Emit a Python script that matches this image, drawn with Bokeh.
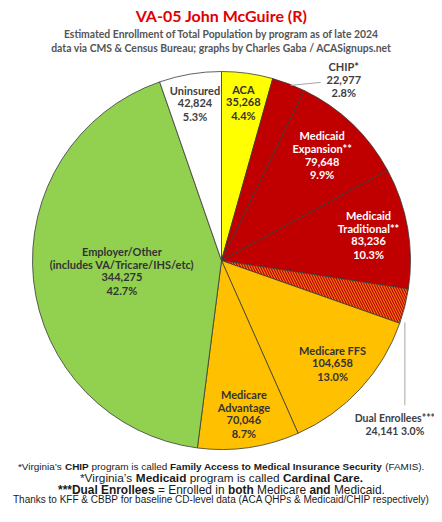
import math
from bokeh.plotting import figure
from bokeh.models import Range1d, ColumnDataSource
from bokeh.core.properties import value
from bokeh.embed import file_html
from bokeh.resources import INLINE

# ---------------- data ----------------
categories = ["ACA", "CHIP*", "Medicaid Expansion**", "Medicaid Traditional**",
              "Dual Enrollees***", "Medicare FFS", "Medicare Advantage",
              "Employer/Other", "Uninsured"]
enrollment = [35268, 22977, 79648, 83236, 24141, 104658, 70046, 344275, 42824]
label_names = [["ACA"], ["CHIP*"], ["Medicaid", "Expansion**"], ["Medicaid", "Traditional**"],
               ["Dual Enrollees***"], ["Medicare FFS"], ["Medicare", "Advantage"],
               ["Employer/Other", "(includes VA/Tricare/IHS/etc)"], ["Uninsured"]]

title_text = "VA-05 John McGuire (R)"
subtitle_lines = ["Estimated Enrollment of Total Population by program as of late 2024",
                  "data via CMS & Census Bureau; graphs by Charles Gaba / ACASignups.net"]
footnotes = [
    [("*Virginia\u2019s ", False), ("CHIP", True), (" program is called ", False),
     ("Family Access to Medical Insurance Security", True), (" (FAMIS).", False)],
    [("*Virginia\u2019s ", False), ("Medicaid", True), (" program is called ", False),
     ("Cardinal Care.", True)],
    [("***Dual Enrollees", True), (" = Enrolled in ", False), ("both", True),
     (" Medicare ", False), ("and", True), (" Medicaid.", False)],
    [("Thanks to KFF & CBBP for baseline CD-level data (ACA QHPs & Medicaid/CHIP respectively)", False)],
]

# ---------------- style ----------------
fill_colors = ["#FFFF00", "#C00000", "#C00000", "#C00000", "#F07A10",
               "#FFC000", "#FFC000", "#92D050", "#FFFFFF"]
hatches = [" ", " ", " ", " ", "\\", " ", " ", " ", " "]
text_colors = ["#333333", "#404040", "#FFFFFF", "#FFFFFF", "#404040",
               "#333333", "#333333", "#333333", "#404040"]
label_sizes = ["11px", "11px", "11px", "11px", "10.5px", "11px", "11px", "11px", "11px"]
# inside: ("in", radius fraction) ; outside: ("out", dx, dy from edge point)
placement = [("in", 0.845), ("out", 55, -4), ("in", 0.77), ("in", 0.79), ("out", -10, 118),
             ("in", 0.80), ("in", 0.82), ("in", 0.53), ("in", 0.845)]

CX, CY, R = 221, 260, 189          # picture coordinates of pie
LINE = 13
W, H = 434, 506


def Y(sy):
    return -sy


p = figure(width=W, height=H, x_range=Range1d(0, W), y_range=Range1d(-H, 0),
           output_backend="svg", toolbar_location=None, min_border=0)
p.axis.visible = False
p.grid.visible = False
p.outline_line_color = None
p.background_fill_color = "white"
p.border_fill_color = "white"

total = sum(enrollment)
fracs = [v / total for v in enrollment]
starts, ends, mids = [], [], []
cum = 0.0
for f in fracs:
    starts.append(cum)
    cum += f
    ends.append(cum)
    mids.append((starts[-1] + cum) / 2)

src = ColumnDataSource(dict(
    cat=categories, value=enrollment,
    start=[math.pi / 2 - 2 * math.pi * s for s in starts],
    end=[math.pi / 2 - 2 * math.pi * e for e in ends],
    color=fill_colors, hatch=hatches))

p.wedge(x=CX, y=Y(CY), radius=R, start_angle="start", end_angle="end", direction="clock",
        fill_color="color", line_color="#3a3a3a", line_width=0.8,
        hatch_pattern="hatch", hatch_color="#C00000", hatch_scale=5, hatch_weight=1.2,
        source=src)

# labels
tx, ty, tt, tc, tsz = [], [], [], [], []
lx0, ly0, lx1, ly1 = [], [], [], []
for i, v in enumerate(enrollment):
    th = 2 * math.pi * mids[i]
    pct = f"{100 * v / total:.1f}%"
    pl = placement[i]
    if pl[0] == "in":
        lines = label_names[i] + [f"{v:,}", pct]
        bx = CX + pl[1] * R * math.sin(th)
        by = CY - pl[1] * R * math.cos(th)
    else:
        ex = CX + R * math.sin(th)
        ey = CY - R * math.cos(th)
        bx, by = ex + pl[1], ey + pl[2]
        if i == 1:
            lines = label_names[i] + [f"{v:,}", pct]
            lx0.append(ex + 2); ly0.append(Y(ey + 1.5))
            lx1.append(bx - 23); ly1.append(Y(by + 2.5))
        else:
            lines = label_names[i] + [f"{v:,} {pct}"]
            lx0.append(ex); ly0.append(Y(ey + 16))
            lx1.append(ex); ly1.append(Y(by - 19))
    n = len(lines)
    for k, s in enumerate(lines):
        tx.append(bx)
        ty.append(Y(by + (k - (n - 1) / 2) * LINE))
        tt.append(s)
        tc.append(text_colors[i])
        tsz.append(label_sizes[i])

p.segment(x0=lx0, y0=ly0, x1=lx1, y1=ly1, line_color="#A6A6A6", line_width=1)
lsrc = ColumnDataSource(dict(x=tx, y=ty, text=tt, color=tc, size=tsz))
p.text(x="x", y="y", text="text", text_color="color", text_font=value("Lato"),
       text_font_style="bold", text_font_size="size", text_align="center",
       text_baseline="middle", source=lsrc)

# title / subtitle
p.text(x=[CX], y=[Y(15)], text=[title_text], text_color="#E00000", text_font=value("Lato"),
       text_font_style="bold", text_font_size="16px", text_align="center", text_baseline="middle")
p.text(x=[CX, CX], y=[Y(33), Y(47)], text=subtitle_lines, text_color="#555555",
       text_font=value("Lato"), text_font_style="bold", text_font_size="10.4px",
       text_align="center", text_baseline="middle")

# footnotes with Arial/Liberation metrics
PUN = " '\u2019()*,-./=&?:"
REG = dict(zip(PUN, [278, 191, 222, 333, 333, 389, 278, 333, 278, 278, 584, 667, 556, 278]))
BOLD = dict(zip(PUN, [278, 238, 278, 333, 333, 389, 278, 333, 278, 278, 584, 722, 611, 333]))
UP_R = [667, 667, 722, 722, 667, 611, 778, 722, 278, 500, 667, 556, 833, 722, 778, 667, 778, 722, 667, 611, 722, 667, 944, 667, 667, 611]
UP_B = [722, 722, 722, 722, 667, 611, 778, 722, 278, 556, 722, 611, 833, 722, 778, 667, 778, 722, 667, 611, 722, 667, 944, 667, 667, 611]
LO_R = [556, 556, 500, 556, 556, 278, 556, 556, 222, 222, 500, 222, 833, 556, 556, 556, 556, 333, 500, 278, 556, 500, 722, 500, 500, 500]
LO_B = [556, 611, 556, 611, 556, 333, 611, 611, 278, 278, 556, 278, 889, 611, 611, 611, 611, 389, 556, 333, 611, 556, 778, 556, 556, 500]


def cw(ch, bold):
    if ch.isdigit():
        return 556
    if "A" <= ch <= "Z":
        return (UP_B if bold else UP_R)[ord(ch) - 65]
    if "a" <= ch <= "z":
        return (LO_B if bold else LO_R)[ord(ch) - 97]
    return (BOLD if bold else REG).get(ch, 556)


def seg_width(s, bold):
    return sum(cw(c, bold) for c in s) / 1000.0


foot_y = [465.5, 477, 489, 498.5]
foot_w = [407, 283, 327, 417]
fx, fy, ft, fs, fsz = [], [], [], [], []
for line, yy, tw in zip(footnotes, foot_y, foot_w):
    em = sum(seg_width(s, b) for s, b in line)
    size = round(tw / em, 2)
    x = CX - tw / 2
    for s, b in line:
        lead = len(s) - len(s.lstrip(" "))
        fx.append(x + seg_width(" " * lead, b) * size)
        fy.append(Y(yy)); ft.append(s.strip(" "))
        fs.append("bold" if b else "normal"); fsz.append(f"{size}px")
        x += seg_width(s, b) * size

fsrc = ColumnDataSource(dict(x=fx, y=fy, text=ft, style=fs, size=fsz))
p.text(x="x", y="y", text="text", text_font_style="style", text_font_size="size",
       text_font=value("Liberation Sans"), text_color="#1a1a1a", text_align="left",
       text_baseline="middle", source=fsrc)

open("out.html", "w").write(file_html(p, INLINE))
